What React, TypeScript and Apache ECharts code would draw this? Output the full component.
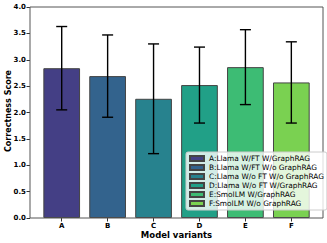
import React, { useEffect, useRef } from "react";
import * as echarts from "echarts";

const categories = ["A", "B", "C", "D", "E", "F"];
const legendNames = [
  "A:Llama W/FT W/GraphRAG",
  "B:Llama W/FT W/o GraphRAG",
  "C:Llama W/o FT W/o GraphRAG",
  "D:Llama W/o FT W/GraphRAG",
  "E:SmolLM W/GraphRAG",
  "F:SmolLM W/o GraphRAG",
];
const means = [2.84, 2.69, 2.26, 2.52, 2.86, 2.57];
const errors = [0.79, 0.78, 1.04, 0.72, 0.71, 0.77];
const colors = ["#443f85", "#33638d", "#27828e", "#21a087", "#3dbc74", "#7ad151"];
const yTitle = "Correctness Score";
const xTitle = "Model variants";

const FONT = "DejaVu Sans";

export default function App() {
  const ref = useRef<HTMLDivElement>(null);
  useEffect(() => {
    if (!ref.current) return;
    const chart = echarts.init(ref.current, undefined, { renderer: "svg" });
    const barSeries = categories.map((c, i) => ({
      type: "bar",
      name: legendNames[i],
      xAxisIndex: 0,
      yAxisIndex: 0,
      stack: "all",
      barWidth: 36.7,
      data: categories.map((_, j) => (j === i ? means[i] : "-")),
      itemStyle: { color: colors[i], borderColor: "#444", borderWidth: 1 },
    }));
    const errData = categories.map((_, i) => [i, means[i], errors[i]]);
    chart.setOption({
      animation: false,
      grid: [
        { left: 38.74, right: 12.7, top: 7, bottom: 25, containLabel: false, outerBoundsMode: "none" },
        {
          left: 30, right: 4, top: 7, bottom: 25, show: true, borderColor: "#555", borderWidth: 1, z: 10,
          containLabel: false, outerBoundsMode: "none",
        },
      ],
      graphic: [
        {
          type: "text",
          x: 8,
          y: 111,
          rotation: Math.PI / 2,
          style: {
            text: yTitle,
            fontFamily: FONT,
            fontWeight: "bold",
            fontSize: 8,
            fill: "#000",
            align: "center",
            verticalAlign: "middle",
          },
        },
        {
          type: "text",
          x: 176.5,
          y: 234.5,
          style: {
            text: xTitle,
            fontFamily: FONT,
            fontWeight: "bold",
            fontSize: 8.5,
            fill: "#000",
            align: "center",
            verticalAlign: "middle",
          },
        },
      ],
      xAxis: [
        {
          type: "category",
          gridIndex: 0,
          data: categories,
          axisLine: { show: false },
          axisTick: { show: true, alignWithLabel: true, length: 3.5, lineStyle: { color: "#333" } },
          axisLabel: { fontFamily: FONT, fontWeight: "bold", fontSize: 7, color: "#000", margin: 4 },
        },
        { type: "value", gridIndex: 1, show: false, min: 0, max: 1 },
      ],
      yAxis: [
        { type: "value", gridIndex: 0, min: 0, max: 4, show: false },
        {
          type: "value",
          gridIndex: 1,
          min: 0,
          max: 4,
          interval: 0.5,
          axisLine: { show: false },
          splitLine: { show: false },
          axisTick: { show: true, length: 3.5, lineStyle: { color: "#333" } },
          axisLabel: {
            fontFamily: FONT,
            fontWeight: "bold",
            fontSize: 7,
            color: "#000",
            margin: 4,
            formatter: (v: number) => v.toFixed(1),
          },
        },
      ],
      legend: {
        orient: "vertical",
        left: 186,
        top: 152,
        padding: [3, 3, 3, 3],
        itemWidth: 14,
        itemHeight: 5,
        itemGap: 2,
        backgroundColor: "rgba(255,255,255,0.8)",
        borderColor: "#ccc",
        borderWidth: 1,
        borderRadius: 2,
        icon: "rect",
        data: legendNames,
        textStyle: { fontFamily: FONT, fontSize: 7.4, color: "#000", lineHeight: 7 },
        z: 20,
      },
      series: [
        ...barSeries,
        {
          type: "custom",
          xAxisIndex: 0,
          yAxisIndex: 0,
          data: errData,
          z: 5,
          renderItem: (params: any, api: any) => {
            const idx = api.value(0);
            const m = api.value(1);
            const e = api.value(2);
            const top = api.coord([idx, m + e]);
            const bot = api.coord([idx, m - e]);
            const cap = 5.5;
            const style = { stroke: "#000", lineWidth: 1.4 };
            return {
              type: "group",
              children: [
                { type: "line", shape: { x1: top[0], y1: top[1], x2: bot[0], y2: bot[1] }, style },
                { type: "line", shape: { x1: top[0] - cap, y1: top[1], x2: top[0] + cap, y2: top[1] }, style },
                { type: "line", shape: { x1: bot[0] - cap, y1: bot[1], x2: bot[0] + cap, y2: bot[1] }, style },
              ],
            };
          },
        },
      ],
    });
    return () => chart.dispose();
  }, []);
  return <div ref={ref} style={{ width: 327, height: 243, position: "absolute", left: 0, top: 0 }} />;
}
